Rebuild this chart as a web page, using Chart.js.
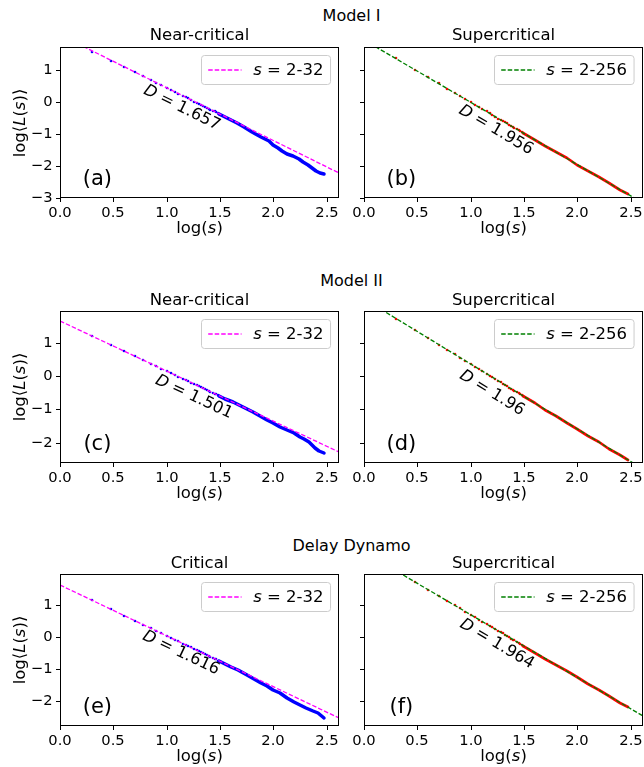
<!DOCTYPE html>
<html><head><meta charset="utf-8">
<script src="https://cdn.jsdelivr.net/npm/chart.js@4.4.0/dist/chart.umd.min.js"></script>
<style>
html,body{margin:0;padding:0;background:#fff;overflow:hidden;}
body{width:644px;height:767px;position:relative;font-family:"DejaVu Sans",sans-serif;color:#000;}
canvas{position:absolute;}
.t{position:absolute;white-space:nowrap;line-height:1;}
.t i{font-style:italic;}
</style></head><body>
<script>
// ---------------- data ----------------
const xTicks = [0, 0.5, 1, 1.5, 2, 2.5];
const yTicksTop = [-3, -2, -1, 0, 1];
const yTicksLower = [-2, -1, 0, 1];

const rowTitles = ['Model I', 'Model II', 'Delay Dynamo'];
const panelTitles = ['Near-critical', 'Supercritical', 'Near-critical', 'Supercritical', 'Critical', 'Supercritical'];
const panelTags = ['(a)', '(b)', '(c)', '(d)', '(e)', '(f)'];
const dLabels = ['1.657', '1.956', '1.501', '1.96', '1.616', '1.964'];
const fitRanges = ['2-32', '2-256', '2-32', '2-256', '2-32', '2-256'];

// log(s) of the individually visible small-s points
const logSDots = [0.30,0.48,0.60,0.70,0.78,0.85,0.90,0.95,1.00,1.04,1.08,1.11,1.15,1.18,1.20,1.23,1.26,1.28,1.30,1.32,1.34,1.36,1.38,1.40,1.41,1.43,1.45,1.46,1.48,1.49];

// (a) Model I near-critical
const aDotsY = [1.56,1.29,1.10,0.94,0.81,0.70,0.61,0.53,0.45,0.38,0.32,0.27,0.21,0.16,0.12,0.07,0.02,-0.01,-0.05,-0.08,-0.11,-0.14,-0.18,-0.21,-0.23,-0.26,-0.29,-0.31,-0.34,-0.36];
const aTailX = [1.49,1.53,1.60,1.66,1.72,1.80,1.88,1.92,1.96,2.00,2.04,2.08,2.13,2.18,2.24,2.28,2.32,2.36,2.40,2.44,2.47];
const aTailY = [-0.36,-0.43,-0.55,-0.65,-0.79,-0.93,-1.08,-1.14,-1.22,-1.33,-1.43,-1.52,-1.62,-1.69,-1.78,-1.87,-1.96,-2.06,-2.15,-2.22,-2.25];
const aFitX = [0, 2.615], aFitY = [2.11, -2.22];

// (b) Model I supercritical
const bDotsY = [1.37,1.02,0.78,0.59,0.43,0.29,0.20,0.10,0.00,-0.08,-0.15,-0.21,-0.29,-0.35,-0.39,-0.45,-0.51,-0.55,-0.59,-0.62,-0.66,-0.70,-0.74,-0.78,-0.80,-0.84,-0.88,-0.90,-0.94,-0.96];
const supTailX = [1.49,1.60,1.70,1.80,1.90,2.00,2.10,2.20,2.30,2.40,2.47];
const bTailY = [-0.96,-1.18,-1.37,-1.56,-1.76,-1.96,-2.15,-2.35,-2.54,-2.74,-2.87];
const bFitX = [0, 2.615], bFitY = [1.957, -3.158];

// (c) Model II near-critical
const cDotsY = [1.20,0.93,0.75,0.60,0.48,0.37,0.30,0.22,0.15,0.09,0.03,-0.02,-0.08,-0.12,-0.15,-0.20,-0.24,-0.27,-0.30,-0.33,-0.36,-0.39,-0.42,-0.45,-0.47,-0.50,-0.53,-0.54,-0.57,-0.59];
const cTailX = [1.49,1.55,1.62,1.70,1.75,1.81,1.875,1.94,2.00,2.06,2.125,2.19,2.25,2.29,2.33,2.36,2.39,2.43,2.47];
const cTailY = [-0.59,-0.68,-0.78,-0.90,-0.98,-1.09,-1.20,-1.32,-1.42,-1.52,-1.62,-1.72,-1.82,-1.89,-1.99,-2.08,-2.17,-2.26,-2.32];
const cFitX = [0, 2.615], cFitY = [1.65, -2.275];

// (d) Model II supercritical
const dDotsY = [1.72,1.37,1.14,0.94,0.79,0.65,0.55,0.45,0.36,0.28,0.20,0.14,0.06,0.00,-0.04,-0.09,-0.15,-0.19,-0.23,-0.27,-0.31,-0.35,-0.39,-0.43,-0.45,-0.49,-0.52,-0.54,-0.58,-0.60];
const dTailY = [-0.60,-0.82,-1.01,-1.21,-1.40,-1.60,-1.80,-1.99,-2.19,-2.38,-2.53];
const dFitX = [0, 2.615], dFitY = [2.31, -2.80];

// (e) Delay dynamo critical
const eDotsY = [1.16,0.87,0.68,0.52,0.39,0.28,0.20,0.12,0.04,-0.02,-0.08,-0.13,-0.20,-0.24,-0.28,-0.32,-0.37,-0.40,-0.44,-0.47,-0.50,-0.53,-0.57,-0.60,-0.61,-0.65,-0.68,-0.69,-0.73,-0.74];
const eTailX = [1.49,1.53,1.60,1.67,1.75,1.82,1.88,1.94,2.00,2.06,2.125,2.19,2.25,2.31,2.375,2.42,2.47];
const eTailY = [-0.74,-0.80,-0.93,-1.04,-1.18,-1.30,-1.42,-1.54,-1.65,-1.76,-1.91,-2.02,-2.12,-2.22,-2.30,-2.38,-2.54];
const eFitX = [0, 2.615], eFitY = [1.64, -2.54];

// (f) Delay dynamo supercritical
const fDotsY = [2.08,1.72,1.49,1.29,1.14,1.00,0.90,0.80,0.71,0.63,0.55,0.49,0.41,0.35,0.31,0.25,0.19,0.15,0.12,0.08,0.04,0.00,-0.04,-0.08,-0.10,-0.14,-0.18,-0.20,-0.24,-0.26];
const fTailY = [-0.26,-0.48,-0.67,-0.87,-1.06,-1.26,-1.46,-1.65,-1.85,-2.05,-2.18];
const fFitX = [0, 2.615], fFitY = [2.667, -2.469];

// ---------------- layout / style ----------------
const FONT = '"DejaVu Sans", "Liberation Sans", sans-serif';
const PLOT_W = 279;
const rows = [
  {top:47,  h:151, ymin:-3.0,  ymax:1.73, ticks:yTicksTop,   titleY:21.7,  subY:40.7},
  {top:311, h:152, ymin:-2.61, ymax:1.95, ticks:yTicksLower, titleY:286.7, subY:305.7},
  {top:574, h:152, ymin:-2.78, ymax:1.98, ticks:yTicksLower, titleY:551.7, subY:569.3}
];
const cols = [60, 364];
const NEAR = {data:'#0000ff', fit:'#ff00ff', tailW:3.5};
const SUP  = {data:'#ff0000', fit:'#008000', tailW:2.7};

const panels = [
  {dotsY:aDotsY, tailX:aTailX, tailY:aTailY, fitX:aFitX, fitY:aFitY, st:NEAR, dAt:[1.14,-0.18]},
  {dotsY:bDotsY, tailX:supTailX, tailY:bTailY, fitX:bFitX, fitY:bFitY, st:SUP, dAt:[1.24,-0.86]},
  {dotsY:cDotsY, tailX:cTailX, tailY:cTailY, fitX:cFitX, fitY:cFitY, st:NEAR, dAt:[1.256,-0.64]},
  {dotsY:dDotsY, tailX:supTailX, tailY:dTailY, fitX:dFitX, fitY:dFitY, st:SUP, dAt:[1.20,-0.52]},
  {dotsY:eDotsY, tailX:eTailX, tailY:eTailY, fitX:eFitX, fitY:eFitY, st:NEAR, dAt:[1.131,-0.50]},
  {dotsY:fDotsY, tailX:supTailX, tailY:fTailY, fitX:fFitX, fitY:fFitY, st:SUP, dAt:[1.247,-0.21]}
];

const pts = (xs, ys) => xs.map((x, i) => ({x, y: ys[i]}));

function addText(html, cx, baseline, size, extra) {
  const d = document.createElement('div');
  d.className = 't';
  d.style.fontSize = size + 'px';
  d.innerHTML = html;
  d.style.left = cx + 'px';
  d.style.top = (baseline - 0.846 * size) + 'px';
  d.style.transform = 'translateX(-50%)';
  if (extra) extra(d);
  document.body.appendChild(d);
  return d;
}

const framePlugin = {
  id: 'frame',
  afterDatasetsDraw(chart) {
    const {ctx, chartArea: a} = chart;
    ctx.save();
    ctx.strokeStyle = '#000';
    ctx.lineWidth = 1;
    ctx.strokeRect(Math.round(a.left) + 0.5, Math.round(a.top) + 0.5, Math.round(a.width) - 1, Math.round(a.height) - 1);
    ctx.restore();
  }
};

const annotPlugin = {
  id: 'annot',
  afterDraw(chart, args, o) {
    const {ctx, chartArea: a} = chart;
    const xs = chart.scales.x, ys = chart.scales.y;
    ctx.save();
    // panel tag
    ctx.fillStyle = '#000';
    ctx.font = '21px ' + FONT;
    ctx.textAlign = 'center';
    ctx.textBaseline = 'middle';
    ctx.fillText(o.tag, a.left + 0.134 * a.width, a.bottom - 0.12 * a.height);
    // D label, rotated along fit line
    const x0 = xs.getPixelForValue(o.fitX[0]), y0 = ys.getPixelForValue(o.fitY[0]);
    const x1 = xs.getPixelForValue(o.fitX[1]), y1 = ys.getPixelForValue(o.fitY[1]);
    const ang = Math.atan2(y1 - y0, x1 - x0);
    ctx.save();
    ctx.translate(xs.getPixelForValue(o.dAt[0]), ys.getPixelForValue(o.dAt[1]));
    ctx.rotate(ang);
    const fi = 'italic 16.3px ' + FONT, fn = '16.3px ' + FONT;
    ctx.font = fi; const w1 = ctx.measureText('D').width;
    const rest = ' = ' + o.d;
    ctx.font = fn; const w2 = ctx.measureText(rest).width;
    const st = -(w1 + w2) / 2;
    ctx.textAlign = 'left';
    ctx.font = fi; ctx.fillText('D', st, 0);
    ctx.font = fn; ctx.fillText(rest, st + w1, 0);
    ctx.restore();
    // legend
    const lf = '16.5px ' + FONT, lfi = 'italic 16.5px ' + FONT;
    const r2 = ' = ' + o.range;
    ctx.font = lfi; const ws = ctx.measureText('s').width;
    ctx.font = lf; const wr = ctx.measureText(r2).width;
    const bw = 6.7 + 33.3 + 11.7 + ws + wr + 7, bh = 29;
    const bx = Math.round(a.right - 9 - bw) + 0.5, by = Math.round(a.top + 7.6) + 0.5;
    const r = 3;
    ctx.beginPath();
    ctx.moveTo(bx + r, by);
    ctx.lineTo(bx + bw - r, by); ctx.quadraticCurveTo(bx + bw, by, bx + bw, by + r);
    ctx.lineTo(bx + bw, by + bh - r); ctx.quadraticCurveTo(bx + bw, by + bh, bx + bw - r, by + bh);
    ctx.lineTo(bx + r, by + bh); ctx.quadraticCurveTo(bx, by + bh, bx, by + bh - r);
    ctx.lineTo(bx, by + r); ctx.quadraticCurveTo(bx, by, bx + r, by);
    ctx.closePath();
    ctx.fillStyle = 'rgba(255,255,255,0.8)';
    ctx.fill();
    ctx.strokeStyle = '#cccccc';
    ctx.lineWidth = 1;
    ctx.stroke();
    const ly = by + bh / 2;
    ctx.beginPath();
    ctx.setLineDash([4.5, 2]);
    ctx.strokeStyle = o.fitColor;
    ctx.lineWidth = 1.3;
    ctx.moveTo(bx + 6.7, ly); ctx.lineTo(bx + 40, ly);
    ctx.stroke();
    ctx.setLineDash([]);
    ctx.fillStyle = '#000';
    ctx.textAlign = 'left';
    ctx.textBaseline = 'middle';
    ctx.font = lfi; ctx.fillText('s', bx + 51.7, ly + 0.5);
    ctx.font = lf; ctx.fillText(r2, bx + 51.7 + ws, ly + 0.5);
    ctx.restore();
  }
};

function makePanel(i) {
  const p = panels[i];
  const row = rows[Math.floor(i / 2)];
  const col = i % 2;
  const L = col === 0 ? 45 : 20, T = 16, R = 5, B = 26;
  const cw = PLOT_W + L + R, ch = row.h + T + B;
  const cv = document.createElement('canvas');
  cv.width = cw; cv.height = ch;
  cv.style.width = cw + 'px'; cv.style.height = ch + 'px';
  cv.style.left = (cols[col] - L) + 'px';
  cv.style.top = (row.top - T) + 'px';
  document.body.appendChild(cv);
  new Chart(cv, {
    type: 'scatter',
    data: {datasets: [
      {data: pts(p.fitX, p.fitY), showLine: true, borderColor: p.st.fit, borderWidth: 1.3, borderDash: [4.5, 2], pointRadius: 0, clip: 0},
      {data: pts(p.tailX, p.tailY), showLine: true, borderColor: p.st.data, borderWidth: p.st.tailW, pointRadius: 0, clip: 0, borderCapStyle: 'round', borderJoinStyle: 'round'},
      {data: pts(logSDots, p.dotsY), showLine: false, pointRadius: 1.3, pointBackgroundColor: p.st.data, pointBorderWidth: 0, borderColor: p.st.data, clip: 0}
    ]},
    options: {
      responsive: false, animation: false, devicePixelRatio: 1, events: [],
      layout: {padding: {left: 0, top: T, right: R, bottom: 0}},
      plugins: {
        legend: {display: false}, tooltip: {enabled: false},
        annot: {tag: panelTags[i], d: dLabels[i], range: fitRanges[i], fitX: p.fitX, fitY: p.fitY, fitColor: p.st.fit, dAt: p.dAt}
      },
      scales: {
        x: {
          type: 'linear', min: 0, max: 2.615, alignToPixels: true,
          afterBuildTicks: s => { s.ticks = xTicks.map(v => ({value: v})); },
          afterFit: s => { s.height = B; },
          grid: {display: true, drawOnChartArea: false, drawTicks: true, tickLength: 4, color: '#000', lineWidth: 1},
          border: {display: false},
          ticks: {font: {family: FONT, size: 14.7}, color: '#000', padding: 2, maxRotation: 0, autoSkip: false, callback: v => Number(v).toFixed(1)}
        },
        y: {
          type: 'linear', min: row.ymin, max: row.ymax, alignToPixels: true,
          afterBuildTicks: s => { s.ticks = row.ticks.map(v => ({value: v})); },
          afterFit: s => { s.width = L; },
          grid: {display: true, drawOnChartArea: false, drawTicks: true, tickLength: 4, color: '#000', lineWidth: 1},
          border: {display: false},
          ticks: {display: col === 0, font: {family: FONT, size: 14.7}, color: '#000', padding: 3.5, callback: v => String(v).replace('-', '\u2212')}
        }
      }
    },
    plugins: [framePlugin, annotPlugin]
  });
}

for (let i = 0; i < 6; i++) makePanel(i);

// titles and axis labels
rows.forEach((row, r) => {
  addText(rowTitles[r], (cols[0] + cols[1] + PLOT_W) / 2, row.titleY, 16);
  for (let c = 0; c < 2; c++) {
    const cx = cols[c] + PLOT_W / 2;
    addText(panelTitles[r * 2 + c], cx, row.subY, 16.5);
    addText('log(<i>s</i>)', cx, row.top + row.h + 36, 16.5);
  }
  addText('log\u27e8<i>L</i>(<i>s</i>)\u27e9', 20, 0, 16.5, d => {
    d.style.top = (row.top + row.h / 2) + 'px';
    d.style.transform = 'translate(-50%,-50%) rotate(-90deg)';
  });
});
</script>
</body></html>
